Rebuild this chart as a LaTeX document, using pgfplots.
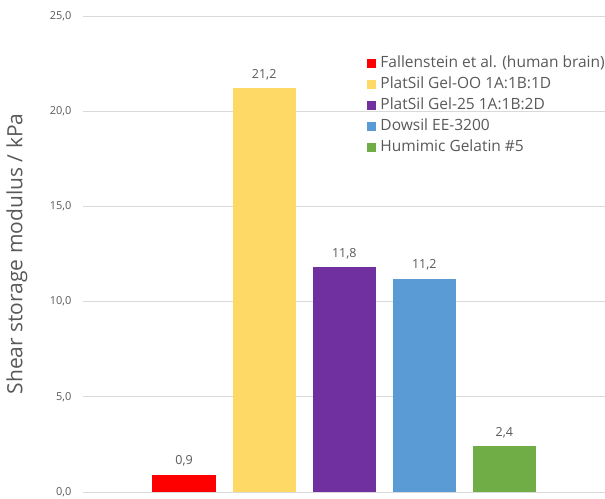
\documentclass[border=0pt]{standalone}
\usepackage{pgfplots}
\pgfplotsset{compat=1.18}
\usepackage{fontspec}
\setmainfont{Open Sans}
\definecolor{txtgray}{HTML}{595959}
\definecolor{gridgray}{HTML}{D9D9D9}
\definecolor{cRed}{HTML}{FF0000}
\definecolor{cYellow}{HTML}{FFD966}
\definecolor{cPurple}{HTML}{7030A0}
\definecolor{cBlue}{HTML}{5B9BD5}
\definecolor{cGreen}{HTML}{70AD47}
\begin{document}
\begin{tikzpicture}
\begin{axis}[
  name=ax,
  scale only axis,
  width=522pt, height=476pt,
  ybar, bar shift=0pt, bar width=0.79,
  xmin=-0.2625, xmax=6.256,
  ymin=0, ymax=25,
  ytick={0,5,10,15,20,25},
  xtick=\empty,
  axis line style={draw=none},
  ymajorgrids, grid style={gridgray, line width=0.8pt},
  major tick length=0pt,
  /pgf/number format/.cd, use comma, fixed, fixed zerofill, precision=1, assume math mode=true,
  /pgfplots/.cd,
  yticklabel style={font=\fontsize{11}{13}\selectfont, text=txtgray, xshift=-8pt},
  ylabel={Shear storage modulus / kPa},
  ylabel style={font=\fontsize{21}{25}\selectfont, text=txtgray, at={(axis description cs:-0.1264,0.5)}, anchor=center},
  nodes near coords,
  nodes near coords style={font=\fontsize{12.5}{15}\selectfont, text=txtgray, yshift=5pt, /pgf/number format/.cd, use comma, fixed, fixed zerofill, precision=1, assume math mode=true},
  legend style={draw=none, fill=none, at={(0.545,0.918)}, anchor=north west,
    font=\fontsize{15.5}{18}\selectfont, text=txtgray, row sep=5pt, inner sep=0pt, outer sep=0pt,
    nodes={inner sep=1pt, text height=11pt, text depth=3pt},
    /tikz/every even column/.append style={column sep=0pt}},
  legend cell align=left,
  legend image code/.code={\fill[#1] (0pt,-4.5pt) rectangle (9pt,4.5pt); \path (12pt,0pt);},
]
\addplot[fill=cRed, draw=none] coordinates {(1,0.9)};
\addlegendentry{Fallenstein et al. (human brain)}
\addplot[fill=cYellow, draw=none] coordinates {(2,21.2)};
\addlegendentry{PlatSil Gel-OO 1A:1B:1D}
\addplot[fill=cPurple, draw=none] coordinates {(3,11.8)};
\addlegendentry{PlatSil Gel-25 1A:1B:2D}
\addplot[fill=cBlue, draw=none] coordinates {(4,11.2)};
\addlegendentry{Dowsil EE-3200}
\addplot[fill=cGreen, draw=none] coordinates {(5,2.4)};
\addlegendentry{Humimic Gelatin \#5}
\end{axis}
\pgfresetboundingbox
\path ([xshift=-83pt,yshift=-7pt]ax.south west) rectangle ([yshift=16pt]ax.north east);
\end{tikzpicture}
\end{document}
